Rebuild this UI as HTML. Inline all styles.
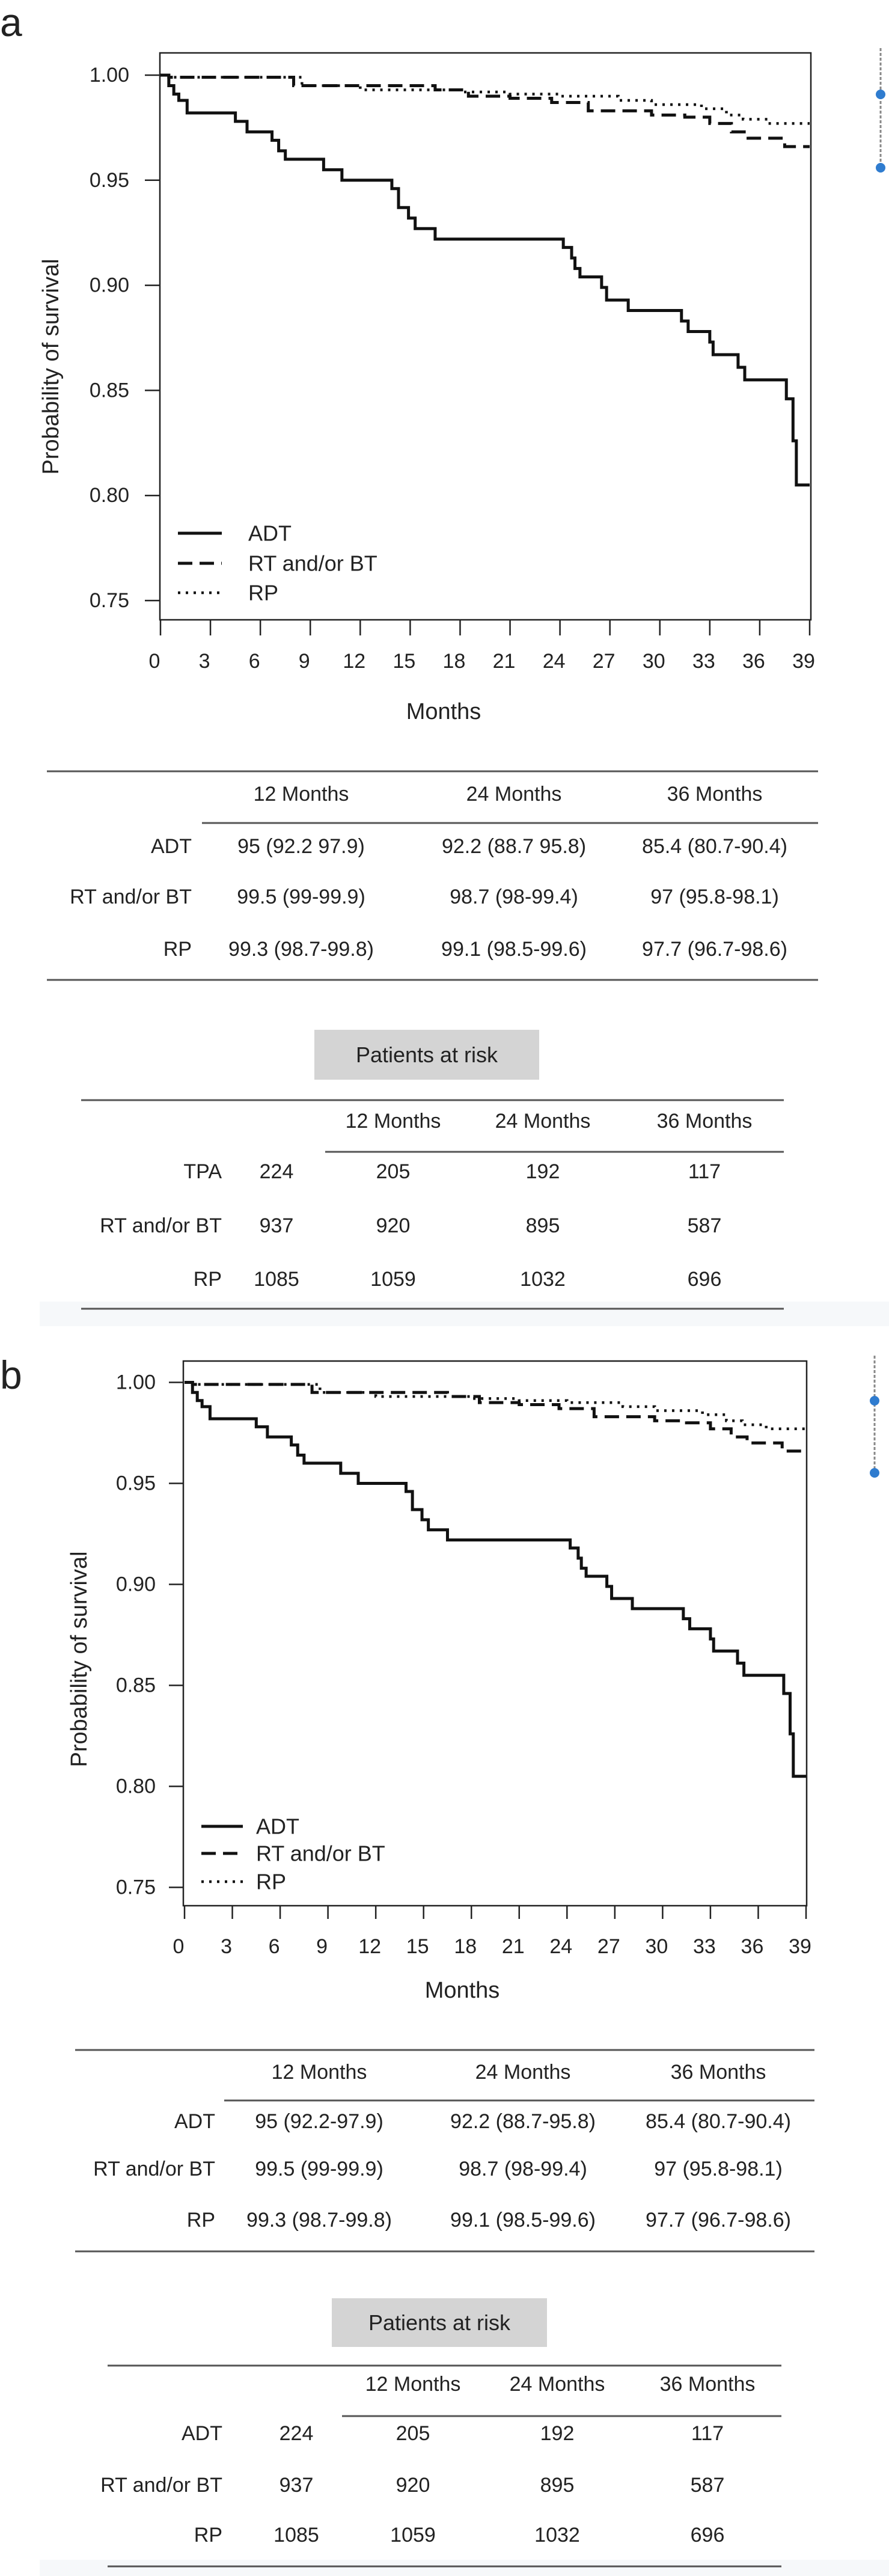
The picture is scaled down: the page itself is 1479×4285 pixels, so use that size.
<!DOCTYPE html>
<html><head><meta charset="utf-8"><style>
html,body{margin:0;padding:0;background:#fff;}
svg{display:block;font-family:"Liberation Sans",Arial,sans-serif;}
</style></head><body>
<svg id="root" width="1479" height="4285" viewBox="0 0 1479 4285" xmlns="http://www.w3.org/2000/svg"></svg>
<script>
// ---- chart data ----
const xTicks = [0,3,6,9,12,15,18,21,24,27,30,33,36,39];
const yTicks = [0.75,0.80,0.85,0.90,0.95,1.00];
const yTickLabels = ["0.75","0.80","0.85","0.90","0.95","1.00"];
const adtTimes = [0,0.5,0.8,1.1,1.6,4.5,5.2,6.7,7.1,7.5,9.8,10.9,13.9,14.3,14.9,15.3,16.5,24.2,24.7,24.9,25.2,26.5,26.8,28.1,31.3,31.7,33.0,33.2,34.7,35.1,37.6,38.0,38.2];
const adtSurv  = [1.0,0.995,0.991,0.988,0.982,0.978,0.973,0.969,0.964,0.960,0.955,0.950,0.946,0.937,0.932,0.927,0.922,0.918,0.913,0.908,0.904,0.899,0.893,0.888,0.883,0.878,0.873,0.867,0.861,0.855,0.846,0.826,0.805];
const rtTimes = [0,0.5,8.0,16.5,18.5,21.0,23.5,25.7,29.5,31.5,33.0,34.3,35.3,37.5];
const rtSurv  = [1.0,0.999,0.995,0.993,0.990,0.989,0.987,0.983,0.981,0.980,0.977,0.973,0.970,0.966];
const rpTimes = [0,0.5,8.5,12,18,21,24,27.5,29.5,32.5,34,35,36.5];
const rpSurv  = [1.0,0.999,0.995,0.993,0.992,0.991,0.990,0.988,0.986,0.984,0.981,0.979,0.977];
const seriesNames = ["ADT","RT and/or BT","RP"];
const survHeader = ["12 Months","24 Months","36 Months"];
const survRowsA = [["95 (92.2 97.9)","92.2 (88.7 95.8)","85.4 (80.7-90.4)"],["99.5 (99-99.9)","98.7 (98-99.4)","97 (95.8-98.1)"],["99.3 (98.7-99.8)","99.1 (98.5-99.6)","97.7 (96.7-98.6)"]];
const survRowsB = [["95 (92.2-97.9)","92.2 (88.7-95.8)","85.4 (80.7-90.4)"],["99.5 (99-99.9)","98.7 (98-99.4)","97 (95.8-98.1)"],["99.3 (98.7-99.8)","99.1 (98.5-99.6)","97.7 (96.7-98.6)"]];
const riskLabelsA = ["TPA","RT and/or BT","RP"];
const riskLabelsB = ["ADT","RT and/or BT","RP"];
const riskBaseline = [224,937,1085];
const risk12 = [205,920,1059];
const risk24 = [192,895,1032];
const risk36 = [117,587,696];

const NS="http://www.w3.org/2000/svg";
const root=document.getElementById('root');
function mk(tag,attrs,parent){const e=document.createElementNS(NS,tag);for(const k in attrs)e.setAttribute(k,attrs[k]);(parent||root).appendChild(e);return e;}
function txt(s,x,y,size,anchor,parent){const t=mk('text',{x:x,y:y,'font-size':size,'text-anchor':anchor||'middle','dominant-baseline':'central',fill:'#222'},parent);t.textContent=s;return t;}

function stepPath(times,surv,X,Y,tEnd){
  let d='M'+X(times[0])+','+Y(surv[0]);
  for(let i=1;i<times.length;i++){d+=' H'+X(times[i])+' V'+Y(surv[i]);}
  d+=' H'+X(tEnd);return d;
}

function panel(g){
  const grp=mk('g',{});
  
  
  const X=t=>g.x0+(t-0)/(39-0)*(g.x1-g.x0);
  const Y=v=>g.y0+(1.0-v)/(1.0-0.75)*(g.y1-g.y0);
  const lbl=txt(g.letter,g.letterX,g.letterY,66,'start',grp);
  
  
  const box=mk('rect',{x:g.bx0,y:g.by0,width:g.bx1-g.bx0,height:g.by1-g.by0,fill:'none',stroke:'#222','stroke-width':2.5},grp);
  
  
  xTicks.forEach((t,i)=>{
    const l=mk('line',{x1:X(t),x2:X(t),y1:g.by1,y2:g.tickB,stroke:'#222','stroke-width':2.5},grp);
    
    
    const tl=txt(String(t),X(t)-10,g.xlabY,34,'middle',grp);
    
    
  });
  yTicks.forEach((v,i)=>{
    const l=mk('line',{x1:g.ytickL,x2:g.bx0,y1:Y(v),y2:Y(v),stroke:'#222','stroke-width':2.5},grp);
    
    
    const tl=txt(yTickLabels[i],g.ylabR,Y(v),34,'end',grp);
    
    
  });
  const yt=txt('Probability of survival',0,0,38,'middle',grp);
  yt.setAttribute('transform','translate('+g.ytX+','+g.ytY+') rotate(-90)');
  
  
  const xt=txt('Months',g.xtX,g.xtY,38,'middle',grp);
  
  
  const specs=[[adtTimes,adtSurv,'none',5,'adt-curve'],[rtTimes,rtSurv,'24 12',5,'rt-bt-curve'],[rpTimes,rpSurv,'4 9',4.5,'rp-curve']];
  specs.forEach((s,i)=>{
    const p=mk('path',{d:stepPath(s[0],s[1],X,Y,39),fill:'none',stroke:'#111','stroke-width':s[3],'stroke-dasharray':s[2]},grp);
    
    
    const ll=mk('line',{x1:g.legL0,x2:g.legL1,y1:g.legY[i],y2:g.legY[i],stroke:'#111','stroke-width':s[3],'stroke-dasharray':s[2]},grp);
    
    
    const lt=txt(seriesNames[i],g.legT,g.legY[i],36,'start',grp);
    
    
  });
  const dl=mk('line',{x1:g.blueX,x2:g.blueX,y1:g.blueY0,y2:g.blueY2,stroke:'#888','stroke-width':3,'stroke-dasharray':'5 3'},grp);
  
  
  [g.blueY1,g.blueY2].forEach(yy=>{
    const c=mk('circle',{cx:g.blueX,cy:yy,r:8,fill:'#2f7ccf'},grp);
    
    
  });
}

function survTable(t,rows){
  const grp=mk('g',{});
  
  
  [[t.l,t.top],[t.l,t.bot],[t.subL,t.sub]].forEach(r=>{
    const ln=mk('line',{x1:r[0],x2:t.r,y1:r[1],y2:r[1],stroke:'#555','stroke-width':3},grp);
    
    
  });
  survHeader.forEach((h,i)=>{
    const e=txt(h,t.cols[i],t.hy,34,'middle',grp);
    
    
  });
  rows.forEach((row,ri)=>{
    const e=txt(seriesNames[ri],t.labR,t.rows[ri],34,'end',grp);
    
    
    row.forEach((v,ci)=>{
      const c=txt(v,t.cols[ci],t.rows[ri],34,'middle',grp);
      
      
    });
  });
}

function riskTable(t,labels){
  const grp=mk('g',{});
  
  
  const bx=mk('rect',{x:t.boxL,y:t.boxT,width:t.boxR-t.boxL,height:t.boxB-t.boxT,fill:'#d4d4d4'},grp);
  
  
  const bt=txt('Patients at risk',(t.boxL+t.boxR)/2,(t.boxT+t.boxB)/2,36,'middle',grp);
  
  
  [[t.l,t.top],[t.l,t.bot],[t.subL,t.sub]].forEach(r=>{
    const ln=mk('line',{x1:r[0],x2:t.r,y1:r[1],y2:r[1],stroke:'#555','stroke-width':3},grp);
    
    
  });
  survHeader.forEach((h,i)=>{
    const e=txt(h,t.cols[i],t.hy,34,'middle',grp);
    
    
  });
  labels.forEach((lab,ri)=>{
    const e=txt(lab,t.labR,t.rows[ri],34,'end',grp);
    
    
    const vals=[riskBaseline[ri],risk12[ri],risk24[ri],risk36[ri]];
    const xs=[t.col0].concat(t.cols);
    vals.forEach((v,ci)=>{
      const c=txt(String(v),xs[ci],t.rows[ri],34,'middle',grp);
      
      
    });
  });
}

[[2165,41],[4258,27]].forEach(b=>{
  const r=mk('rect',{x:66,y:b[0],width:1413,height:b[1],fill:'#f6f8fa'});
  
  
});

panel({name:'panel-a-chart',letter:'a',letterX:0,letterY:37,bx0:266,bx1:1349,by0:88,by1:1031,x0:267,x1:1347,y0:125,y1:999,
  tickB:1057,xlabY:1100,ytickL:241,ylabR:215,ytX:85,ytY:610,xtX:738,xtY:1184,
  legL0:296,legL1:369,legT:413,legY:[887,937,986],blueX:1465,blueY0:80,blueY1:157,blueY2:279});
survTable({l:78,r:1361,top:1283,bot:1630,subL:336,sub:1369,hy:1321,cols:[501,855,1189],rows:[1408,1492,1579],labR:319},survRowsA);
riskTable({boxL:523,boxR:897,boxT:1713,boxB:1796,l:135,r:1304,top:1830,bot:2177,subL:541,sub:1916,hy:1865,cols:[654,903,1172],rows:[1949,2039,2128],labR:369,col0:460},riskLabelsA);

panel({name:'panel-b-chart',letter:'b',letterX:0,letterY:2287,bx0:305,bx1:1342,by0:2264,by1:3170,x0:307,x1:1341,y0:2299.5,y1:3139.5,
  tickB:3192,xlabY:3238,ytickL:281,ylabR:259,ytX:132,ytY:2760,xtX:769,xtY:3311,
  legL0:335,legL1:404,legT:426,legY:[3038,3083,3130],blueX:1455,blueY0:2255,blueY1:2330,blueY2:2450});
survTable({l:125,r:1355,top:3410,bot:3745,subL:373,sub:3494,hy:3447,cols:[531,870,1195],rows:[3529,3608,3693],labR:358},survRowsB);
riskTable({boxL:552,boxR:910,boxT:3823,boxB:3904,l:179,r:1300,top:3935,bot:4269,subL:569,sub:4019,hy:3966,cols:[687,927,1177],rows:[4048,4134,4217],labR:370,col0:493},riskLabelsB);
</script>
</body></html>
